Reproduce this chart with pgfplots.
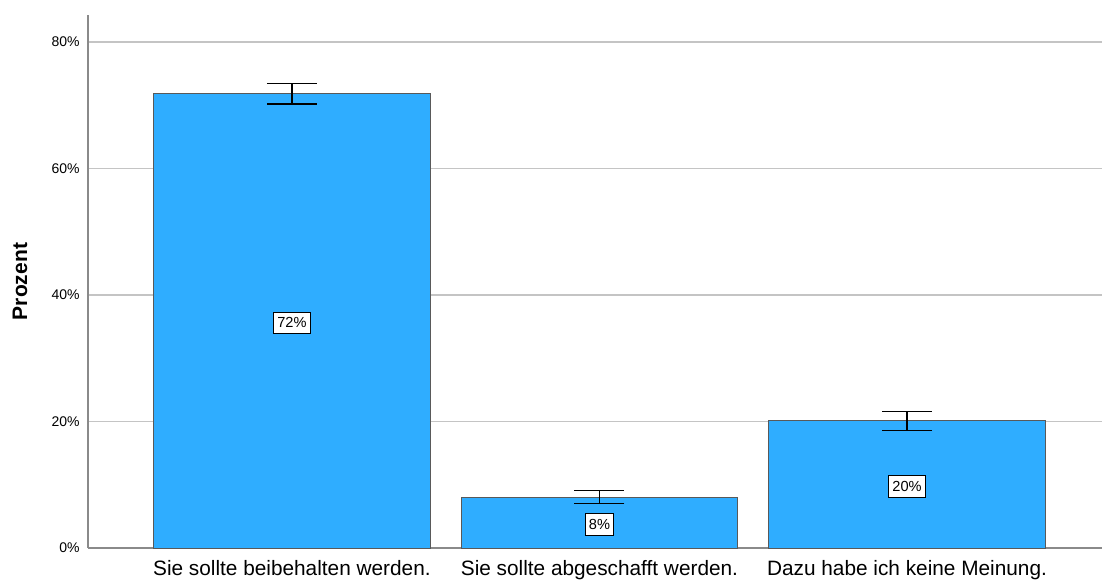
\documentclass[border=0pt]{standalone}
\usepackage{pgfplots}
\pgfplotsset{compat=1.18}
\usepackage{fontspec}
\setmainfont{Liberation Sans}
\definecolor{barblue}{HTML}{2FADFF}
\definecolor{axisgray}{HTML}{8A8A8A}
\definecolor{gridgray}{HTML}{C4C4C4}

\begin{document}
\begin{tikzpicture}
\begin{axis}[
    scale only axis, width=507pt, height=266.5pt,
    xmin=-0.663, xmax=2.634, ymin=0, ymax=84.27,
    axis lines*=left,
    axis line style={axisgray, line width=0.7pt},
    clip=false,
    ymajorgrids, grid style={gridgray, line width=0.8pt},
    major tick length=0pt,
    xtick={0,1,2},
    xticklabels={Sie sollte beibehalten werden., Sie sollte abgeschafft werden., Dazu habe ich keine Meinung.},
    x tick label style={font=\fontsize{10.4}{12}\selectfont, inner sep=0pt, anchor=north, yshift=-6pt},
    ytick={0,20,40,60,80},
    yticklabels={0\%,20\%,40\%,60\%,80\%},
    y tick label style={font=\fontsize{7}{8}\selectfont, inner sep=0pt, anchor=east, xshift=-4pt},
    ylabel={\textbf{Prozent}},
    y label style={font=\fontsize{10.5}{12}\selectfont, at={(axis description cs:-0.067,0.5)}, anchor=center},
  ]
  \addplot[ybar, bar width=0.9, fill=barblue, draw=black!65, line width=0.5pt,
    error bars/.cd, y dir=both, y explicit, error mark=|,
    error bar style={black, line width=0.6pt},
    error mark options={black, line width=0.6pt, mark size=12.5pt}]
    coordinates {(0,71.8) +- (0,1.6) (1,8.06) +- (0,1.05) (2,20.1) +- (0,1.5)};
  \addplot[draw=none, mark=none, nodes near coords, point meta=explicit symbolic,
    nodes near coords style={anchor=center, fill=white, draw=black, line width=0.6pt,
      inner xsep=1.8pt, inner ysep=2.8pt, yshift=-1pt, font=\fontsize{7.3}{8}\selectfont}]
    coordinates {(0,35.9) [72\%] (1,4.03) [8\%] (2,10.05) [20\%]};
  \coordinate (sw) at (rel axis cs:0,0);
\end{axis}
\pgfresetboundingbox
\path (sw) ++(-44pt,-15.5pt) rectangle ++(551pt,289.5pt);
\end{tikzpicture}
\end{document}
